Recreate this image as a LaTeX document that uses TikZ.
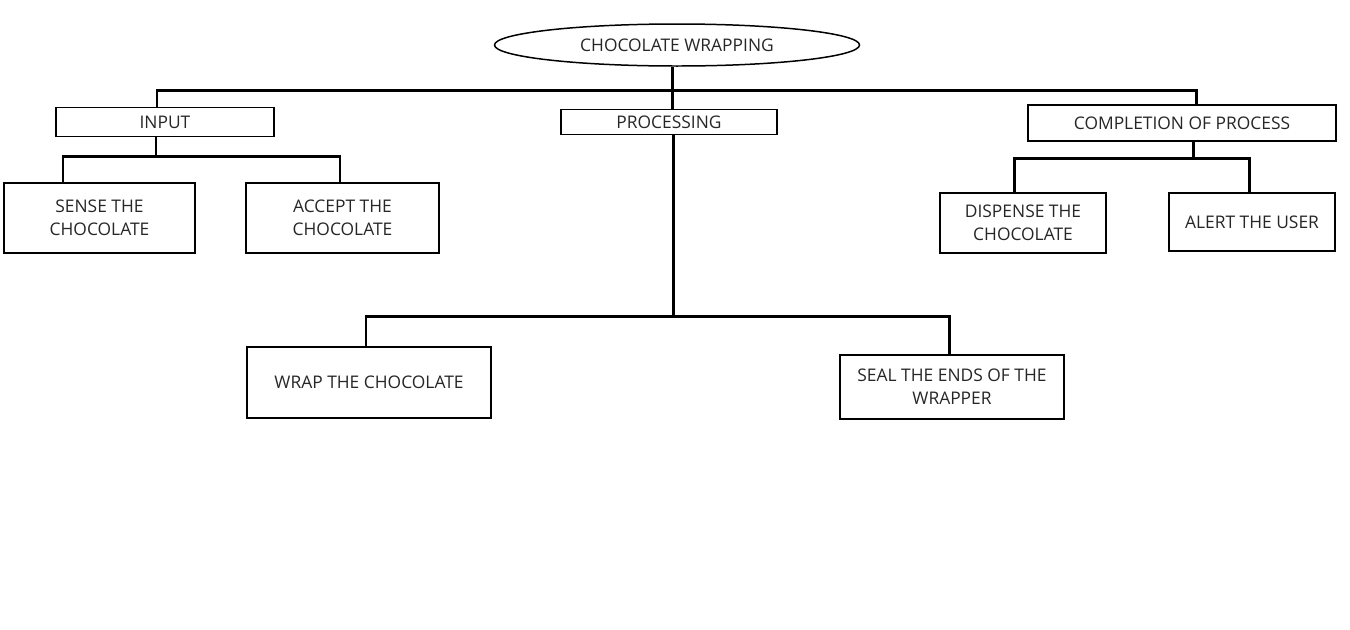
\documentclass[tikz,border=0pt]{standalone}
\usepackage{fontspec}
\setmainfont{Open Sans}
\usepackage{tikz}
\usetikzlibrary{shapes.geometric, arrows}
\tikzstyle{rootnode} = [ellipse, 
minimum width=7.3cm, 
minimum height=0.84cm,
inner sep=0pt,
text centered, 
draw=black, 
line width=0.85pt]
\tikzstyle{stagebox} = [rectangle, 
minimum width=4.3cm, 
minimum height=0.55cm, 
inner sep=0pt,
text centered, 
draw=black, 
line width=1.1pt]
\tikzstyle{taskbox} = [rectangle, 
minimum width=3.8cm, 
minimum height=1.4cm, 
inner sep=0pt,
text centered, 
align=center,
draw=black, 
line width=1.1pt]
\tikzstyle{link} = [line width=1.7pt]

\begin{document}
\begin{tikzpicture}[node distance=1.54cm, font=\fontsize{9.9}{13.2}\selectfont, text=black!85]
\useasboundingbox (0,0) rectangle (27,-12.58);

\node (wrapping) [rootnode] at (13.54,-0.9) {CHOCOLATE WRAPPING};
\node (input) [stagebox, below of=wrapping, xshift=-10.24cm, minimum width=4.36cm, minimum height=0.58cm] {INPUT};
\node (proc) [stagebox, below of=wrapping, xshift=-0.16cm, minimum width=4.32cm, minimum height=0.5cm] {PROCESSING};
\node (compl) [stagebox, below of=wrapping, xshift=10.1cm, yshift=-0.02cm, minimum width=6.16cm, minimum height=0.72cm] {COMPLETION OF PROCESS};

\node (sense) [taskbox, below of=input, xshift=-1.31cm, yshift=-0.38cm, minimum width=3.82cm] {SENSE THE\\CHOCOLATE};
\node (accept) [taskbox, below of=input, xshift=3.55cm, yshift=-0.38cm, minimum width=3.86cm] {ACCEPT THE\\CHOCOLATE};
\node (dispense) [taskbox, below of=compl, xshift=-3.18cm, yshift=-0.46cm, minimum width=3.32cm, minimum height=1.2cm] {DISPENSE THE\\CHOCOLATE};
\node (alert) [taskbox, below of=compl, xshift=1.4cm, yshift=-0.44cm, minimum width=3.32cm, minimum height=1.16cm] {ALERT THE USER};
\node (wrap) [taskbox, below of=proc, xshift=-6.0cm, yshift=-3.67cm, minimum width=4.88cm, minimum height=1.42cm] {WRAP THE CHOCOLATE};
\node (seal) [taskbox, below of=proc, xshift=5.66cm, yshift=-3.76cm, minimum width=4.48cm, minimum height=1.28cm] {SEAL THE ENDS OF THE\\WRAPPER};

\draw [link] ([xshift=-0.1cm]wrapping.south) -- ++(0,-0.48) coordinate (topbus);
\draw [link] (topbus) -| ([xshift=-0.16cm]input.north);
\draw [link] (topbus) -| ([xshift=0.28cm]compl.north);
\draw [link] (topbus) -- (topbus |- proc.north);

\draw [link] ([xshift=-0.18cm]input.south) -- ++(0,-0.38) coordinate (inbus);
\draw [link] (inbus) -| ([xshift=-0.73cm]sense.north);
\draw [link] (inbus) -| ([xshift=-0.05cm]accept.north);

\draw [link] ([xshift=0.08cm]proc.south) -- ++(0,-3.62) coordinate (procbus);
\draw [link] (procbus) -| ([xshift=-0.06cm]wrap.north);
\draw [link] (procbus) -| ([xshift=-0.06cm]seal.north);

\draw [link] ([xshift=0.22cm]compl.south) -- ++(0,-0.34) coordinate (endbus);
\draw [link] (endbus) -| ([xshift=-0.18cm]dispense.north);
\draw [link] (endbus) -| ([xshift=-0.06cm]alert.north);
\end{tikzpicture}
\end{document}
